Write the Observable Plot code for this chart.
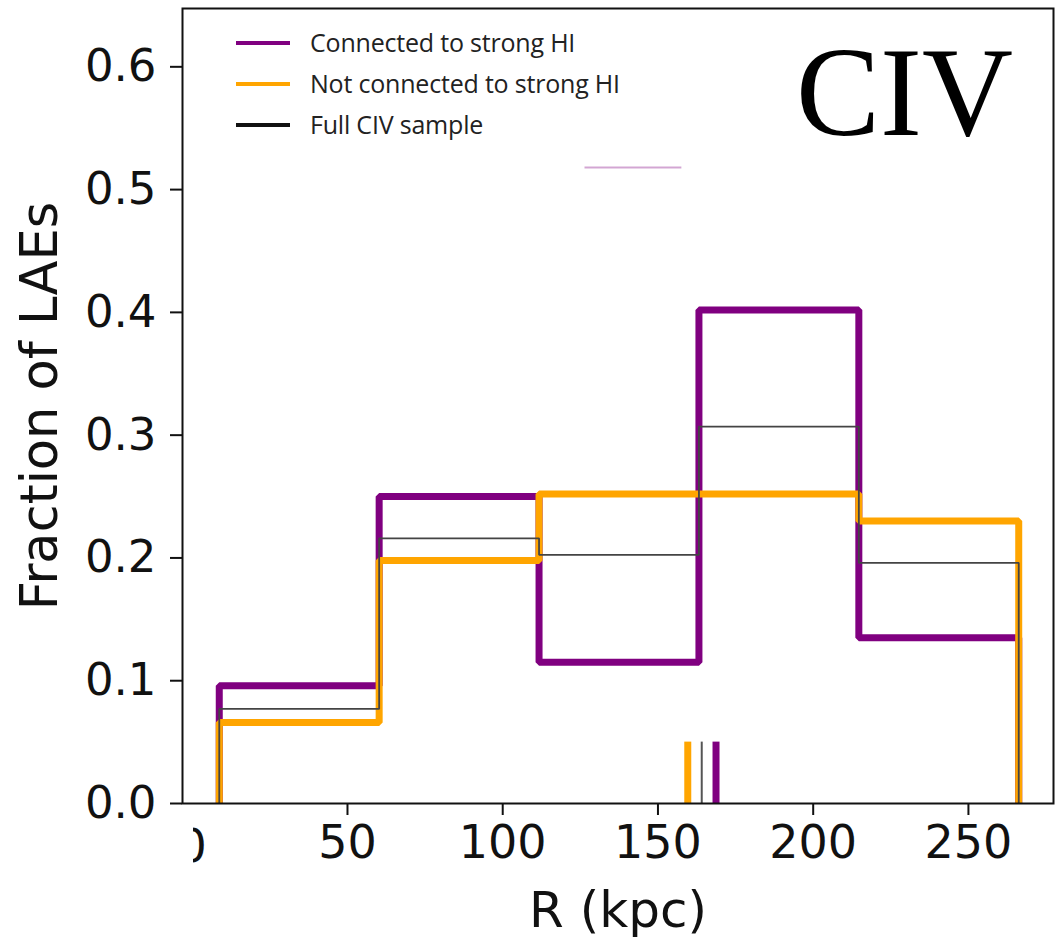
<!DOCTYPE html>
<html>
<head>
<meta charset="utf-8">
<script src="https://cdn.jsdelivr.net/npm/d3@7"></script>
<script src="https://cdn.jsdelivr.net/npm/@observablehq/plot@0.6"></script>
<style>
  html, body { margin: 0; padding: 0; background: #fff; }
  #chart svg { display: block; }
</style>
</head>
<body>
<div id="chart"></div>
<script>
// ---- data ----
const binEdges = [8.7, 60.2, 111.7, 163.2, 214.7, 266.2];          // R (kpc)
const connectedHI = [0.096, 0.250, 0.115, 0.402, 0.135];            // purple
const notConnectedHI = [0.066, 0.198, 0.252, 0.252, 0.230];         // orange
const fullSample = [0.077, 0.216, 0.2025, 0.307, 0.196];            // black
const medianSeries = ["Not connected to strong HI", "Full CIV sample", "Connected to strong HI"];
const medianR = [159.6, 164.1, 168.7];
const medianHeight = [0.05, 0.05, 0.05];
const strayX = [126.5, 157.7];   // faint purple stub in the figure
const strayY = [0.518];
const xTicks = [50, 100, 150, 200, 250];
const yTicks = [0, 0.1, 0.2, 0.3, 0.4, 0.5, 0.6];
const legendLabels = ["Connected to strong HI", "Not connected to strong HI", "Full CIV sample"];
const seriesColors = ["#800080", "#FFA500", "#111111"];

function stepPoints(vals) {
  const pts = [{x: binEdges[0], y: 0}];
  vals.forEach((v, i) => pts.push({x: binEdges[i], y: v}));
  pts.push({x: binEdges[binEdges.length - 1], y: vals[vals.length - 1]});
  pts.push({x: binEdges[binEdges.length - 1], y: 0});
  return pts;
}

const medians = medianSeries.map((s, i) => ({series: s, r: medianR[i], h: medianHeight[i]}));
const colorOf = {
  "Connected to strong HI": "#800080",
  "Not connected to strong HI": "#FFA500",
  "Full CIV sample": "#555555"
};
const widthOf = {
  "Connected to strong HI": 7,
  "Not connected to strong HI": 7,
  "Full CIV sample": 2
};

const W = 1057, H = 937;
const plot = Plot.plot({
  width: W,
  height: H,
  marginLeft: 182,
  marginRight: 4,
  marginTop: 8,
  marginBottom: 134,
  style: {fontFamily: "DejaVu Sans", fontSize: "45px", color: "#111", background: "#fff"},
  x: {domain: [-3.14, 277.4]},
  y: {domain: [0, 0.6475]},
  marks: [
    Plot.axisX({ticks: xTicks, tickSize: 12, tickPadding: 10, label: null, strokeWidth: 2, fontSize: 46}),
    Plot.axisY({ticks: yTicks, tickSize: 12, tickPadding: 14, tickFormat: d3.format(".1f"), label: null, strokeWidth: 2, fontSize: 45}),
    Plot.text(["0"], {x: [0], frameAnchor: "bottom", dy: 44, lineAnchor: "middle", fontSize: 46}),
    Plot.ruleY(strayY, {x1: strayX[0], x2: strayX[1], stroke: "#800080", strokeOpacity: 0.35, strokeWidth: 2}),
    Plot.line(stepPoints(connectedHI), {x: "x", y: "y", curve: "step-after", stroke: "#800080", strokeWidth: 7, strokeLinejoin: "miter", strokeLinecap: "butt"}),
    Plot.line(stepPoints(notConnectedHI), {x: "x", y: "y", curve: "step-after", stroke: "#FFA500", strokeWidth: 7, strokeLinejoin: "miter", strokeLinecap: "butt"}),
    Plot.line(stepPoints(fullSample), {x: "x", y: "y", curve: "step-after", stroke: "#444", strokeWidth: 1.8, strokeLinejoin: "miter", strokeLinecap: "butt"}),
    Plot.ruleX(medians, {x: "r", y1: 0, y2: "h", stroke: d => colorOf[d.series], strokeWidth: d => widthOf[d.series]}),
    Plot.frame({stroke: "#111", strokeWidth: 2}),
    Plot.text(["Fraction of LAEs"], {frameAnchor: "left", dx: -142, rotate: -90, lineAnchor: "middle", textAnchor: "middle", fontSize: 51}),
    Plot.text(["R (kpc)"], {frameAnchor: "bottom", dy: 107, lineAnchor: "middle", textAnchor: "middle", fontSize: 50})
  ]
});

document.getElementById("chart").appendChild(plot);

const svg = d3.select(plot);
// mask the left half of the "0" tick label as in the reference
svg.append("rect").attr("x", 162).attr("y", 812).attr("width", 31).attr("height", 64).attr("fill", "#fff");

// legend
const lg = svg.append("g").attr("font-family", "Open Sans").attr("font-size", 25)
  .attr("fill", "#222").attr("text-anchor", "start");
legendLabels.forEach((t, i) => {
  const yy = 43 + i * 41;
  lg.append("line").attr("x1", 236).attr("x2", 290).attr("y1", yy).attr("y2", yy)
    .attr("stroke", seriesColors[i]).attr("stroke-width", 4);
  lg.append("text").attr("x", 310).attr("y", yy).attr("dy", "0.35em")
    .attr("text-anchor", "start").attr("letter-spacing", "-0.2px").text(t);
});

// panel label
svg.append("text").attr("x", 1013).attr("y", 135).attr("text-anchor", "end")
  .attr("font-family", "Liberation Serif").attr("font-size", 126).attr("fill", "#000").text("CIV");
</script>
</body>
</html>
